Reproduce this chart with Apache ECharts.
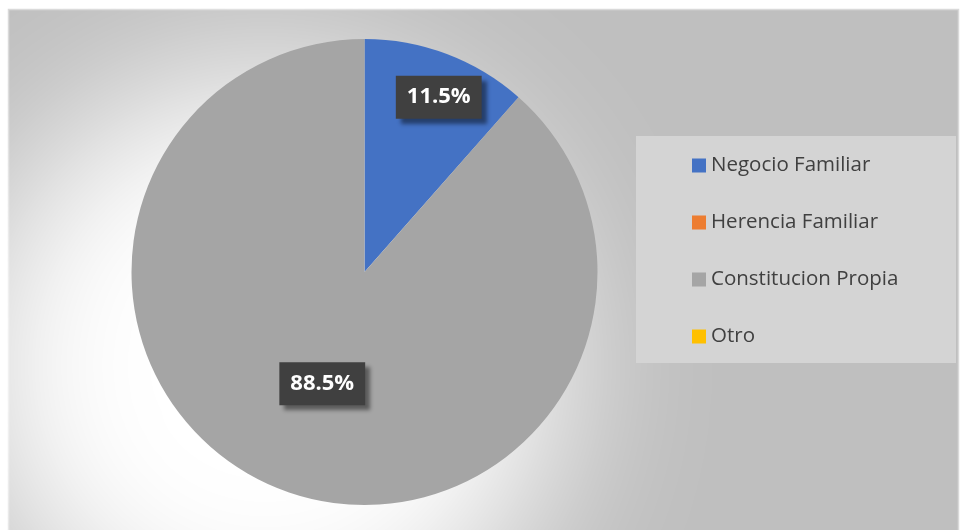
<!DOCTYPE html>
<html>
<head>
<meta charset="utf-8">
<script src="https://cdn.jsdelivr.net/npm/echarts@6/dist/echarts.min.js"></script>
<style>html,body{margin:0;padding:0;background:#fff}#c{width:960px;height:530px}</style>
</head>
<body>
<div id="c"></div>
<script>
const categories = ['Negocio Familiar', 'Herencia Familiar', 'Constitucion Propia', 'Otro'];
const values = [11.5, 0, 88.5, 0];
const colors = ['#4472C4', '#ED7D31', '#A5A5A5', '#FFC000'];

const labelShift = { 0: [32, -63] };

const chart = echarts.init(document.getElementById('c'));
const data = categories.map((n, i) => ({ name: n, value: values[i], itemStyle: { color: colors[i] },
  label: { show: values[i] > 0 } }));

const OFF = 3000;
chart.setOption({
  animation: false,
  graphic: [
    { type: 'rect', z: -10, shape: { x: 8.5, y: 9.5, width: 950, height: 530 },
      style: { fill: '#BFBFBF', stroke: '#D9D9D9', lineWidth: 1.5 } },
    { type: 'circle', z: -5, silent: true, shape: { cx: 265 - OFF, cy: 365, r: 295 },
      style: { fill: '#FFFFFF', shadowColor: 'rgba(255,255,255,1)', shadowBlur: 160, shadowOffsetX: OFF, shadowOffsetY: 0 } },
    { type: 'rect', z: 5, shape: { x: 636, y: 136, width: 320, height: 227 },
      style: { fill: '#D4D4D4' } }
  ],
  legend: {
    orient: 'vertical', left: 636, top: 136, z: 8,
    padding: [19, 10, 16, 56],
    itemWidth: 14, itemHeight: 14, itemGap: 36,
    icon: 'rect',
    textStyle: { fontFamily: 'Open Sans', fontSize: 20.5, color: '#404040', lineHeight: 21 },
    data: categories
  },
  series: [
    {
      type: 'pie', z: 2,
      center: [364.5, 272], radius: 233,
      startAngle: 90, clockwise: true,
      legendHoverLink: false,
      label: {
        position: 'inside',
        formatter: p => p.value.toFixed(1) + '%',
        fontFamily: 'Open Sans', fontWeight: 'bold', fontSize: 22, color: '#FFFFFF',
        lineHeight: 24,
        backgroundColor: '#404040', padding: [9, 11, 10, 11],
        shadowColor: 'rgba(0,0,0,0.45)', shadowBlur: 4, shadowOffsetX: 5, shadowOffsetY: 5
      },
      labelLayout: p => {
        const s = labelShift[p.dataIndex];
        return s ? { dx: s[0], dy: s[1] } : {};
      },
      labelLine: { show: false },
      emphasis: { disabled: true },
      data: data
    }
  ]
});
</script>
</body>
</html>
